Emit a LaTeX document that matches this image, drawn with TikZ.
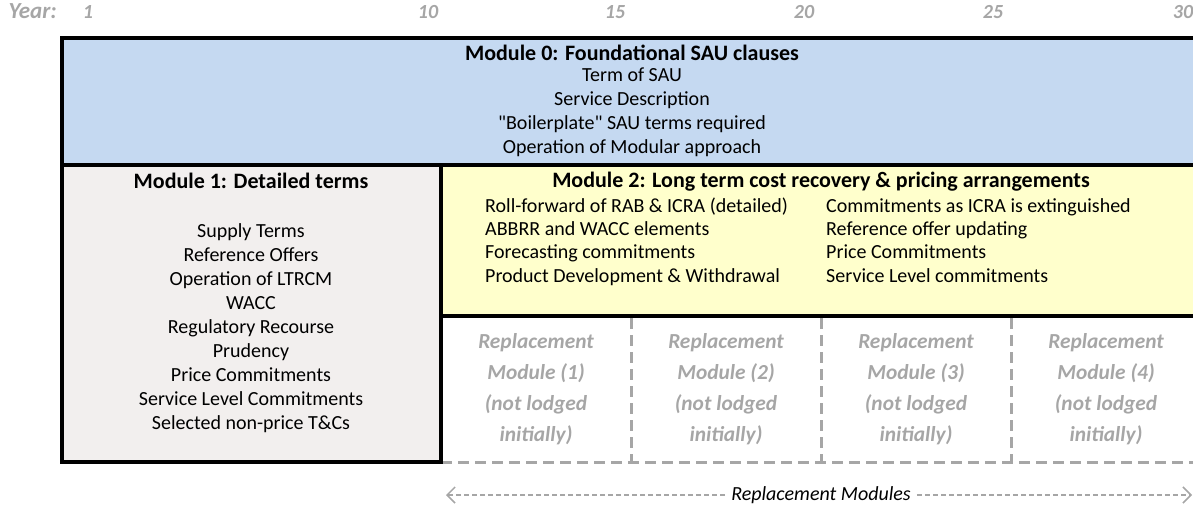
\documentclass[tikz,border=0pt]{standalone}
\usepackage{fontspec}
\setmainfont{Carlito}[Ligatures=TeXOff]
\usetikzlibrary{arrows.meta}
\definecolor{modzero}{HTML}{C5D9F1}
\definecolor{modone}{HTML}{F2EFEE}
\definecolor{modtwo}{HTML}{FFFFCC}
\definecolor{lightgrey}{HTML}{A6A6A6}

\begin{document}
\begin{tikzpicture}[x=1pt,y=-1pt,
  txt/.style={inner sep=0pt,text height=14pt,text depth=4pt,font=\fontsize{20}{24}\selectfont},
  head/.style={txt,font=\fontsize{22}{26}\selectfont\bfseries},
  yr/.style={txt,text=lightgrey,font=\fontsize{20}{24}\selectfont\bfseries\itshape},
  ghost/.style={yr,font=\fontsize{21.4}{26}\selectfont\bfseries\itshape},
  module/.style={line width=4pt,line cap=rect},
  spare/.style={draw=lightgrey,line width=3pt,dash pattern=on 11pt off 6pt},
  span/.style={draw=lightgrey,line width=1.5pt,dash pattern=on 5pt off 3pt,
    -{Straight Barb[length=8pt,width=16pt,line width=1.5pt]}}]
\useasboundingbox (0,0) rectangle (1193,504);
% years
\node[yr,anchor=east,font=\fontsize{23}{26}\selectfont\bfseries\itshape] (year) at (57,13) {Year:};
\foreach \yv/\xv in {1/88,10/428,15/615,20/804,25/993,30/1183}
  \node[yr] (y\yv) at (\xv,13) {\yv};
% fills
\fill[modzero] (62,38) rectangle (1201,165);
\fill[modone] (62,165) rectangle (441,462);
\fill[modtwo] (441,165) rectangle (1201,316);
% replacement slots
\draw[spare] (441,462) -- (1201,462);
\foreach \xv in {631,821,1011}
  \draw[spare] (\xv,318) -- (\xv,462);
% borders
\draw[module] (1201,38) -- (62,38) -- (62,462) -- (441,462) -- (441,165);
\draw[module] (62,165) -- (1201,165);
\draw[module] (441,316) -- (1201,316);
% module 0
\node[head] (m0) at (632,55) {Module 0: Foundational SAU clauses};
\foreach \txt [count=\i] in {Term of SAU,Service Description,
    "Boilerplate" SAU terms required,Operation of Modular approach}
  \node[txt] (m0-\i) at (632,{53+23.8*\i}) {\txt};
% module 1
\node[head] (m1) at (251,183) {Module 1: Detailed terms};
\foreach \txt [count=\i] in {Supply Terms,Reference Offers,Operation of LTRCM,WACC,
    Regulatory Recourse,Prudency,Price Commitments,Service Level Commitments,
    Selected non-price T\&Cs}
  \node[txt] (m1-\i) at (251,{208+24.1*\i}) {\txt};
% module 2
\node[head] (m2) at (821,182) {Module 2: Long term cost recovery \& pricing arrangements};
\foreach \txt [count=\i] in {Roll-forward of RAB \& ICRA (detailed),ABBRR and WACC elements,
    Forecasting commitments,Product Development \& Withdrawal}
  \node[txt,anchor=west] (m2a-\i) at (485,{184+23.3*\i}) {\txt};
\foreach \txt [count=\i] in {Commitments as ICRA is extinguished,Reference offer updating,
    Price Commitments,Service Level commitments}
  \node[txt,anchor=west] (m2b-\i) at (826,{184+23.3*\i}) {\txt};
% replacement modules
\foreach \n in {1,...,4} {
  \node[ghost] (r\n-a) at ({346+190*\n},343) {Replacement};
  \node[ghost] (r\n-b) at ({346+190*\n},374) {Module (\n)};
  \node[ghost] (r\n-c) at ({346+190*\n},405) {(not lodged};
  \node[ghost] (r\n-d) at ({346+190*\n},436) {initially)};
}
\node[txt,inner xsep=6pt,font=\fontsize{20}{24}\selectfont\itshape] (rm) at (821,495) {Replacement Modules};
\coordinate (rmleft) at (446,495);
\coordinate (rmright) at (1192,495);
\draw[span] (rm) -- (rmleft);
\draw[span] (rm) -- (rmright);
\end{tikzpicture}
\end{document}
